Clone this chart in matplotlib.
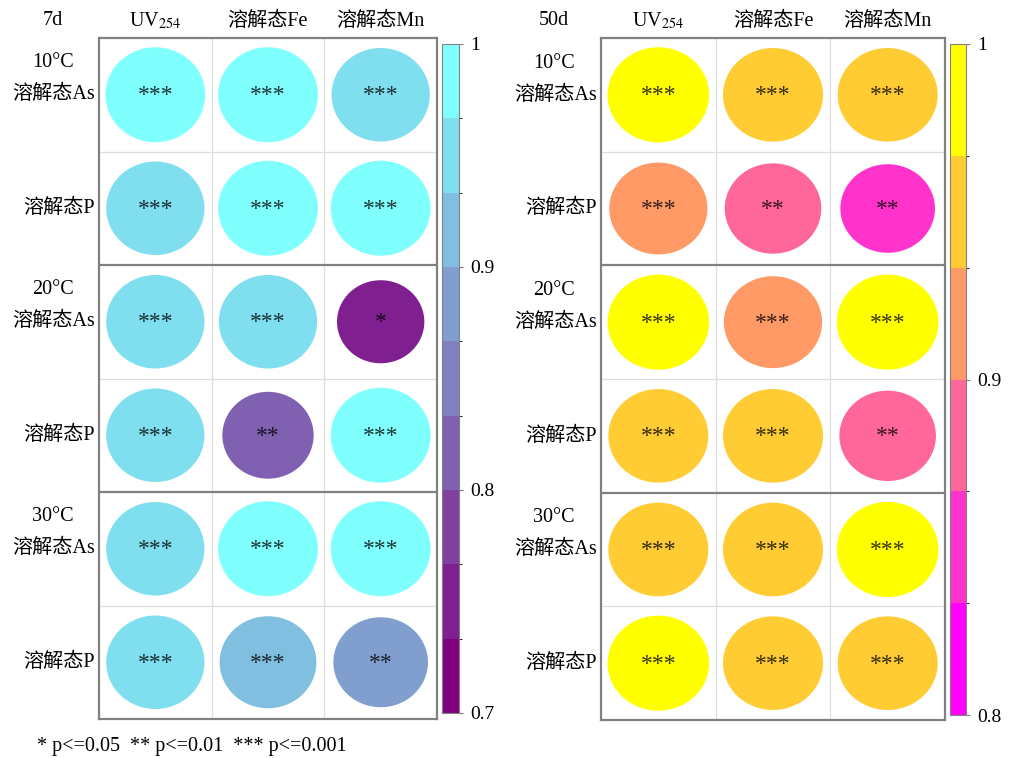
import numpy as np
import matplotlib
matplotlib.use("Agg")
import matplotlib.pyplot as plt
from matplotlib.patches import Ellipse
from matplotlib.colors import ListedColormap, BoundaryNorm
from matplotlib.cm import ScalarMappable

plt.rcParams['font.family'] = ['Liberation Serif', 'Noto Sans CJK SC']
plt.rcParams['mathtext.fontset'] = 'stix'

# ---- data ----
col_labels = ['UV$_{254}$', '溶解态Fe', '溶解态Mn']
row_labels = ['溶解态As', '溶解态P', '溶解态As', '溶解态P', '溶解态As', '溶解态P']
temp_labels = ['10°C', '20°C', '30°C']
panel_titles = ['7d', '50d']

r_7d = [
    [0.98, 0.98, 0.95],
    [0.95, 0.98, 0.98],
    [0.95, 0.95, 0.75],
    [0.95, 0.82, 0.98],
    [0.95, 0.98, 0.98],
    [0.95, 0.92, 0.88],
]
sig_7d = [
    ['***', '***', '***'],
    ['***', '***', '***'],
    ['***', '***', '*'],
    ['***', '**', '***'],
    ['***', '***', '***'],
    ['***', '***', '**'],
]
r_50d = [
    [0.98, 0.95, 0.95],
    [0.915, 0.885, 0.85],
    [0.98, 0.915, 0.98],
    [0.95, 0.95, 0.885],
    [0.95, 0.95, 0.98],
    [0.98, 0.95, 0.95],
]
sig_50d = [
    ['***', '***', '***'],
    ['***', '**', '**'],
    ['***', '***', '***'],
    ['***', '***', '**'],
    ['***', '***', '***'],
    ['***', '***', '***'],
]

# ---- discrete colour scales ----
n7 = 9
cmap_7d = ListedColormap([(128 / 255, (i / (n7 - 1)), (128 + 127 * i / (n7 - 1)) / 255)
                          for i in range(n7)])
norm_7d = BoundaryNorm(np.linspace(0.7, 1.0, n7 + 1), n7)

n50 = 6
cmap_50d = ListedColormap([(1.0, i / (n50 - 1), 1 - i / (n50 - 1)) for i in range(n50)])
norm_50d = BoundaryNorm(np.linspace(0.8, 1.0, n50 + 1), n50)

W, H = 1009, 758
fig = plt.figure(figsize=(W / 100, H / 100), dpi=100)


def px_box(x0, y0, x1, y1):
    return [x0 / W, 1 - y1 / H, (x1 - x0) / W, (y1 - y0) / H]


FS = 14.5
GRID = '#dedede'
FRAME = '#808080'


def draw_panel(rect, cbar_rect, vals, sigs, cmap, norm, title, ticks):
    ax = fig.add_axes(rect)
    vals = np.asarray(vals)
    nr, nc = vals.shape
    ax.set_xlim(0, nc)
    ax.set_ylim(nr, 0)
    ax.set_xticks([])
    ax.set_yticks([])
    for s in ax.spines.values():
        s.set_color(FRAME)
        s.set_linewidth(1.6)
    for x in range(1, nc):
        ax.axvline(x, color=GRID, lw=0.9, zorder=0)
    for y in range(1, nr):
        if y % 2 == 0:
            ax.axhline(y, color=FRAME, lw=1.6, zorder=3)
        else:
            ax.axhline(y, color=GRID, lw=0.9, zorder=0)

    for i in range(nr):
        for j in range(nc):
            v = vals[i, j]
            s = np.sqrt(abs(v))
            ax.add_patch(Ellipse((j + 0.5, i + 0.5), 0.895 * s, 0.845 * s,
                                 facecolor=cmap(norm(v)), edgecolor='none', zorder=1))
            ax.text(j + 0.5, i + 0.51, sigs[i][j], ha='center', va='center',
                    fontsize=17, color='black', alpha=0.8, zorder=2)

    # column headers and panel title
    for j, lab in enumerate(col_labels):
        ax.text(j + 0.5, -0.15, lab, ha='center', va='center', fontsize=FS)
    ax.text(-0.41, -0.15, title, ha='center', va='center', fontsize=FS)

    # row labels with temperature group labels
    for i, lab in enumerate(row_labels):
        ax.text(-0.035, i + 0.5, lab, ha='right', va='center', fontsize=FS)
    for k, t in enumerate(temp_labels):
        ax.text(-0.41, 2 * k + 0.22, t, ha='center', va='center', fontsize=FS)

    cax = fig.add_axes(cbar_rect)
    cb = fig.colorbar(ScalarMappable(norm=norm, cmap=cmap), cax=cax,
                      ticks=ticks, spacing='proportional')
    cb.ax.set_yticklabels([('%g' % t) for t in ticks])
    cb.outline.set_edgecolor(FRAME)
    cb.outline.set_linewidth(0.8)
    cb.ax.tick_params(length=3, width=0.8, color=FRAME, labelsize=14, pad=5)
    return ax


draw_panel(px_box(99, 38, 437, 719), px_box(442, 44, 459, 713),
           r_7d, sig_7d, cmap_7d, norm_7d, panel_titles[0], [0.7, 0.8, 0.9, 1.0])
draw_panel(px_box(601, 38, 945, 720), px_box(950, 44, 966, 715),
           r_50d, sig_50d, cmap_50d, norm_50d, panel_titles[1], [0.8, 0.9, 1.0])

fig.text(37 / W, 1 - 746 / H, '* p<=0.05  ** p<=0.01  *** p<=0.001',
         ha='left', va='center', fontsize=14.5)

fig.savefig('out.png', dpi=100)
